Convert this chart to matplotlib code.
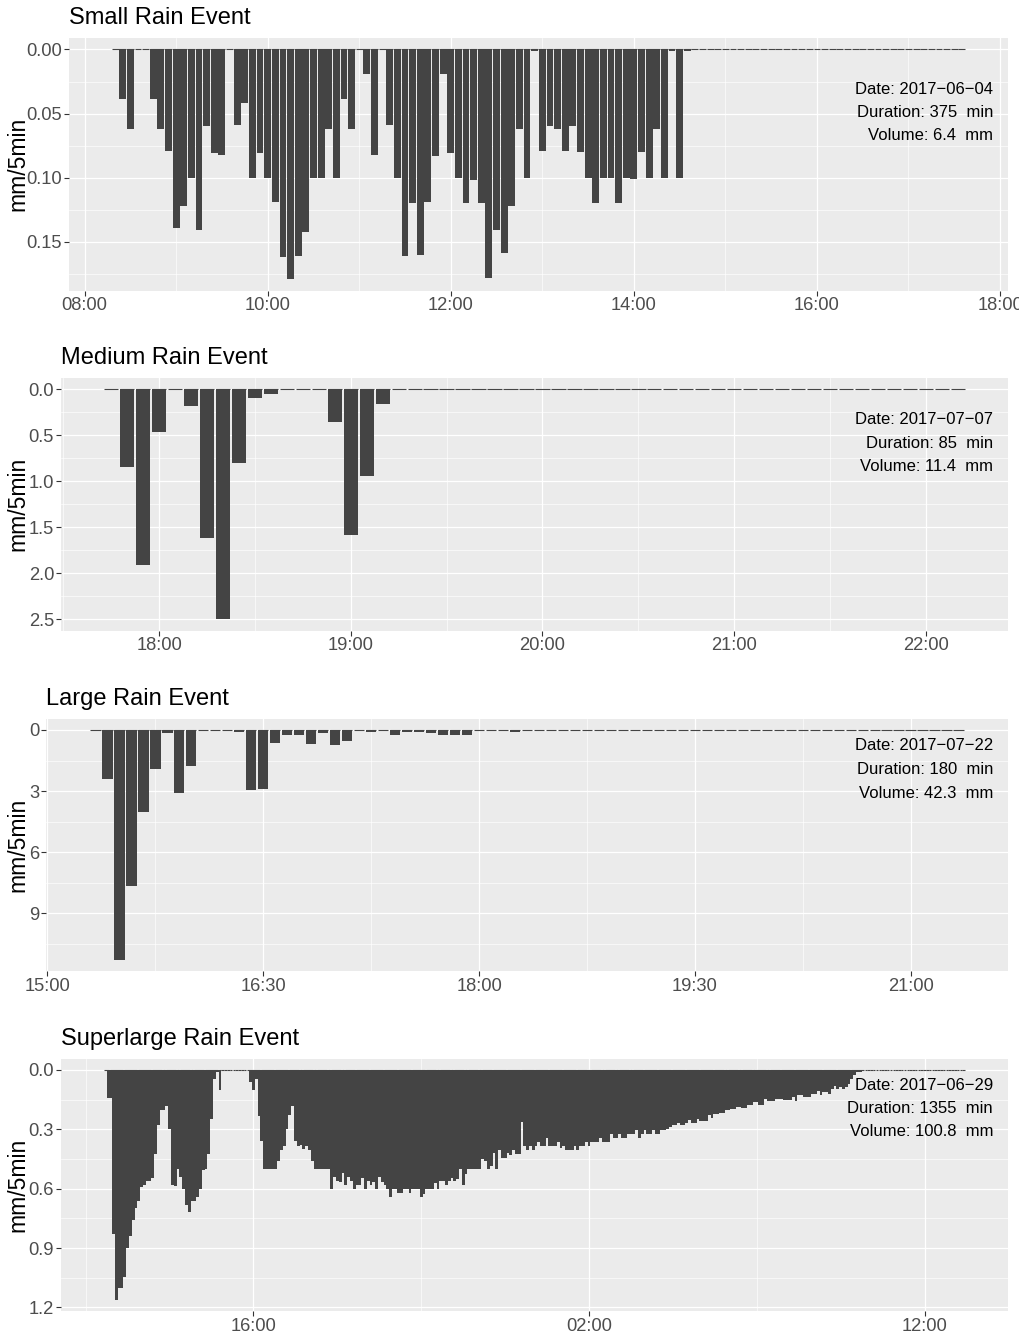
import matplotlib
matplotlib.use('Agg')
import matplotlib.pyplot as plt
import matplotlib.dates as mdates
from matplotlib.ticker import MultipleLocator, FormatStrFormatter
import numpy as np
import pandas as pd

plt.rcParams['font.family'] = ['Liberation Sans', 'DejaVu Sans']

W, H = 1019, 1333
BAR = '#444444'
TICK = '#4D4D4D'

# ---- data (mm per 5 min) ----
small_start = '2017-06-04 08:20'
small_vals = [0, 0.039, 0.062, 0, 0, 0.039, 0.062, 0.079, 0.139, 0.122, 0.100, 0.141,
              0.060, 0.081, 0.082, 0, 0.059, 0.042, 0.100, 0.081, 0.100, 0.119, 0.162,
              0.179, 0.161, 0.142, 0.100, 0.100, 0.062, 0.100, 0.039, 0.062, 0, 0.019,
              0.082, 0, 0.059, 0.100, 0.161, 0.120, 0.160, 0.119, 0.083, 0.019, 0.081,
              0.100, 0.120, 0.102, 0.120, 0.178, 0.141, 0.159, 0.122, 0.062, 0.100, 0.001,
              0.079, 0.060, 0.062, 0.079, 0.060, 0.080, 0.100, 0.120, 0.100, 0.100, 0.120,
              0.100, 0.101, 0.080, 0.100, 0.062, 0.100, 0.001, 0.100, 0.001] + [0] * 36

medium_start = '2017-07-07 17:45'
medium_vals = [0, 0.84, 1.91, 0.46, 0, 0.18, 1.62, 2.50, 0.80, 0.09, 0.05, 0, 0, 0,
               0.35, 1.58, 0.94, 0.16] + [0] * 36

large_start = '2017-07-22 15:20'
large_vals = [0, 2.40, 11.26, 7.65, 4.02, 1.91, 0.16, 3.09, 1.77, 0.02, 0, 0, 0.08,
              2.94, 2.91, 0.64, 0.25, 0.25, 0.69, 0.16, 0.74, 0.54, 0.02, 0.08, 0.02,
              0.25, 0.08, 0.08, 0.16, 0.25, 0.25, 0.25, 0, 0, 0, 0.08] + [0] * 37

super_start = '2017-06-29 11:35'
super_vals = ([0, 0.14, 0.14, 0.83, 1.16, 1.10, 1.10, 1.045, 0.90, 0.84, 0.76, 0.70,
               0.66, 0.59, 0.58, 0.56, 0.56, 0.545, 0.425, 0.28, 0.20, 0.20, 0.18, 0.30,
               0.58, 0.585, 0.50, 0.54, 0.60, 0.68, 0.72, 0.66, 0.66, 0.64, 0.60, 0.505,
               0.50, 0.425, 0.25, 0.045, 0.01, 0.10] + [0] * 10 +
              [0.06, 0.10, 0.045, 0.235, 0.36, 0.50, 0.50, 0.50, 0.50, 0.50, 0.46, 0.405,
               0.385, 0.30, 0.23, 0.18, 0.36, 0.385, 0.38, 0.40, 0.385, 0.405, 0.46,
               0.50, 0.50, 0.50, 0.50, 0.50, 0.50, 0.60, 0.54, 0.56, 0.565, 0.52, 0.58,
               0.54, 0.56, 0.60, 0.58, 0.58, 0.545, 0.60, 0.56, 0.58, 0.565, 0.60, 0.54,
               0.565, 0.583, 0.603, 0.64, 0.60, 0.60, 0.62, 0.62, 0.60, 0.60, 0.62, 0.60,
               0.60, 0.60, 0.64, 0.627, 0.60, 0.60, 0.60, 0.57, 0.60, 0.56, 0.56, 0.583,
               0.56, 0.548, 0.56, 0.55, 0.502, 0.58, 0.527, 0.50, 0.50, 0.50, 0.50, 0.50,
               0.448, 0.46, 0.502, 0.485, 0.42, 0.50, 0.406, 0.445, 0.445, 0.42, 0.428,
               0.406, 0.425, 0.425, 0.263, 0.384, 0.404, 0.386, 0.404, 0.386, 0.366,
               0.386, 0.386, 0.344, 0.384, 0.384, 0.384, 0.364, 0.396, 0.385, 0.404,
               0.404, 0.404, 0.385, 0.404, 0.385, 0.385, 0.366, 0.385, 0.366, 0.366,
               0.366, 0.345, 0.364, 0.364, 0.364, 0.324, 0.344, 0.344, 0.324, 0.344,
               0.344, 0.324, 0.324, 0.324, 0.303, 0.344, 0.324, 0.303, 0.324, 0.324,
               0.303, 0.324, 0.324, 0.303, 0.303,
               0.30, 0.288, 0.28, 0.28, 0.266, 0.28, 0.28, 0.266, 0.254, 0.266, 0.266,
               0.246, 0.26, 0.26, 0.26, 0.229, 0.243, 0.224, 0.224, 0.216, 0.216, 0.204,
               0.204, 0.195, 0.195, 0.187, 0.187, 0.19, 0.19, 0.175, 0.175, 0.162, 0.162,
               0.175, 0.175, 0.145, 0.158, 0.158, 0.158, 0.148, 0.148, 0.148, 0.153,
               0.153, 0.153, 0.137, 0.158, 0.128, 0.128, 0.137, 0.137, 0.137, 0.12, 0.12,
               0.105, 0.128, 0.111, 0.111, 0.12, 0.094, 0.081, 0.094, 0.086, 0.094,
               0.086, 0.069, 0.044, 0.024, 0.01, 0.01, 0.005] + [0] * 36)

titles = ['Small Rain Event', 'Medium Rain Event', 'Large Rain Event', 'Superlarge Rain Event']
dates = ['2017\u221206\u221204', '2017\u221207\u221207', '2017\u221207\u221222', '2017\u221206\u221229']
durations = [375, 85, 180, 1355]
volumes = [6.4, 11.4, 42.3, 100.8]

# panel boxes in pixels: left, top, right, bottom
boxes = [(69, 38, 1008, 290.5), (61, 378, 1008, 630.5),
         (46, 718.5, 1008, 971), (61, 1058.5, 1008, 1311)]
text_y = [89, 420, 746, 1085]

fig = plt.figure(figsize=(W / 100, H / 100), dpi=100)


def panel(k, start, vals, ystep, yfmt, major, minor, fill=0.9):
    l, t, r, b = boxes[k]
    ax = fig.add_axes([l / W, 1 - b / H, (r - l) / W, (b - t) / H])
    ax.set_facecolor('#EBEBEB')
    for s in ax.spines.values():
        s.set_visible(False)
    times = pd.date_range(start, periods=len(vals), freq='5min')
    x = mdates.date2num(times)
    step = 5 / 1440
    w = 0.9 * step
    v = np.array(vals)
    ax.bar(x, v, width=fill * step, color=BAR, linewidth=0, zorder=3)
    ax.hlines(np.zeros(len(x)), x - w / 2, x + w / 2, color=BAR, lw=0.8, zorder=3)

    ax.set_xticks(mdates.date2num(major))
    ax.set_xticks(mdates.date2num(minor), minor=True)
    ax.xaxis.set_major_formatter(mdates.DateFormatter('%H:%M'))
    ax.yaxis.set_major_locator(MultipleLocator(ystep))
    ax.yaxis.set_minor_locator(MultipleLocator(ystep / 2))
    ax.yaxis.set_major_formatter(FormatStrFormatter(yfmt))

    # ggplot-like 5% expansion, set after the ticks so they do not widen it
    x0, x1 = x[0] - w / 2, x[-1] + w / 2
    pad = 0.05 * (x1 - x0)
    ax.set_xlim(x0 - pad, x1 + pad)
    ymax = v.max()
    ax.set_ylim(ymax * 1.05, -ymax * 0.05)

    ax.grid(which='major', color='white', lw=0.9, zorder=0)
    ax.grid(which='minor', color='white', lw=0.45, zorder=0)
    ax.set_axisbelow(True)
    ax.tick_params(which='major', length=3.5, width=0.8, color='#333333',
                   labelsize=13.2, labelcolor=TICK, pad=1.5)
    ax.tick_params(which='minor', length=0)

    fig.text(l / W, 1 - (t - 20) / H, titles[k], fontsize=17, ha='left', va='center')
    fig.text(18 / W, 1 - ((t + b) / 2) / H, 'mm/5min', fontsize=16.5, rotation=90,
             ha='center', va='center')
    lines = ['Date: ' + dates[k], 'Duration: %d  min' % durations[k],
             'Volume: %.1f  mm' % volumes[k]]
    for j, s in enumerate(lines):
        fig.text(993 / W, 1 - (text_y[k] + 23.5 * j) / H, s, fontsize=12,
                 ha='right', va='center', zorder=5)
    return ax


panel(0, small_start, small_vals, 0.05, '%.2f',
      pd.date_range('2017-06-04 08:00', periods=6, freq='2h'),
      pd.date_range('2017-06-04 07:00', periods=7, freq='2h'))
panel(1, medium_start, medium_vals, 0.5, '%.1f',
      pd.date_range('2017-07-07 18:00', periods=5, freq='1h'),
      pd.date_range('2017-07-07 17:30', periods=6, freq='1h'))
panel(2, large_start, large_vals, 3, '%d',
      pd.date_range('2017-07-22 15:00', periods=5, freq='90min'),
      pd.date_range('2017-07-22 15:45', periods=5, freq='90min'))
panel(3, super_start, super_vals, 0.3, '%.1f',
      pd.date_range('2017-06-29 16:00', periods=3, freq='10h'),
      pd.date_range('2017-06-29 11:00', periods=3, freq='10h'), fill=1.0)

fig.savefig('out.png', dpi=100)
